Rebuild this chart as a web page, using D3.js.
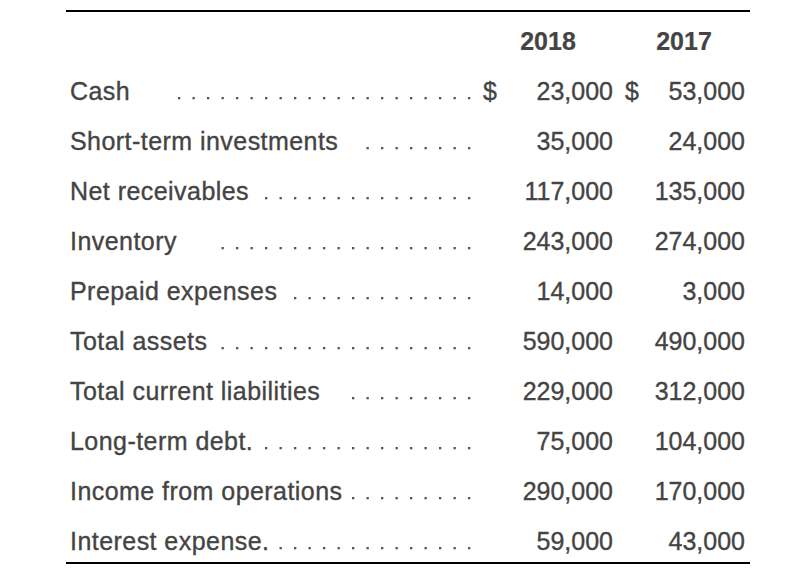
<!DOCTYPE html>
<html><head><meta charset="utf-8">
<script src="https://cdn.jsdelivr.net/npm/d3@7"></script>
<style>body{margin:0;background:#fff}</style>
</head><body>
<svg id="c" width="798" height="570"></svg>
<script>
const years = ["2018", "2017"];
const categories = ["Cash","Short-term investments","Net receivables","Inventory","Prepaid expenses","Total assets","Total current liabilities","Long-term debt.","Income from operations","Interest expense."];
const values2018 = [23000,35000,117000,243000,14000,590000,229000,75000,290000,59000];
const values2017 = [53000,24000,135000,274000,3000,490000,312000,104000,170000,43000];
const leaderDots = [21,8,15,18,13,18,9,15,9,14];
const dollarRows = ["Cash"];

const svg = d3.select("#c");
const font = "'Liberation Sans', Arial, Helvetica, sans-serif";
const color = "#444";
const fs = 25;

const y = d3.scalePoint().domain(categories).range([91, 541]);
const colRight = d3.scaleOrdinal().domain(years).range([613, 745]);
const colCenter = d3.scaleOrdinal().domain(years).range([548, 684]);
const dollarRight = d3.scaleOrdinal().domain(years).range([497, 639]);
const fmt = d3.format(",");

function styleText(sel){
  return sel.attr("font-family",font).attr("font-size",fs).attr("fill",color)
    .attr("stroke",color).attr("stroke-width",0.35);
}

// rules
svg.append("line").attr("x1",66).attr("x2",750).attr("y1",11).attr("y2",11).attr("stroke","#000").attr("stroke-width",2);
svg.append("line").attr("x1",66).attr("x2",750).attr("y1",563).attr("y2",563).attr("stroke","#000").attr("stroke-width",2);

// header
styleText(svg.selectAll("text.hdr").data(years).join("text").attr("class","hdr")
  .attr("x", d => colCenter(d)).attr("y", 41).attr("dy","0.35em")
  .attr("text-anchor","middle"))
  .attr("font-weight","bold").attr("stroke-width",0.2).text(d => d);

const rows = svg.selectAll("g.row").data(categories.map((c,i)=>({c, i, v18: values2018[i], v17: values2017[i], dots: leaderDots[i]})))
  .join("g").attr("class","row").attr("transform", d => `translate(0,${y(d.c)})`);

styleText(rows.append("text").attr("x",70).attr("dy","0.35em"))
  .attr("letter-spacing", 0.45).text(d => d.c);

rows.each(function(d){
  const g = d3.select(this);
  g.selectAll("rect.dot").data(d3.range(d.dots)).join("rect").attr("class","dot")
    .attr("x", k => 468 - k*14.5).attr("y", 6).attr("width",2.3).attr("height",2.3).attr("fill","#555");
});

styleText(rows.append("text").attr("x", colRight("2018")).attr("dy","0.35em").attr("text-anchor","end"))
  .text(d => fmt(d.v18));
styleText(rows.append("text").attr("x", colRight("2017")).attr("dy","0.35em").attr("text-anchor","end"))
  .text(d => fmt(d.v17));

rows.filter(d => dollarRows.includes(d.c)).each(function(){
  const g = d3.select(this);
  years.forEach(yr => styleText(g.append("text").attr("x", dollarRight(yr)).attr("dy","0.35em").attr("text-anchor","end")).text("$"));
});
</script>
</body></html>
